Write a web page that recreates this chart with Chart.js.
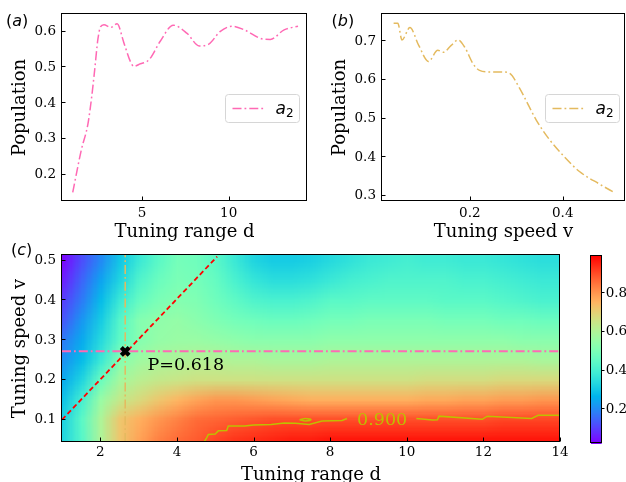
<!DOCTYPE html>
<html lang="es">
<head>
<meta charset="utf-8">
<title>Población a2</title>
<script src="https://cdn.jsdelivr.net/npm/chart.js@4.4.1/dist/chart.umd.min.js"></script>
<style>
    html, body { margin: 0; padding: 0; background: #fff; }
    #lienzo { position: relative; width: 626px; height: 482px; overflow: hidden; background: #fff; }
    #lienzo canvas { position: absolute; left: 0; top: 0; }
</style>
</head>
<body>
<div id="lienzo">
    <canvas id="panelA" width="626" height="482"></canvas>
    <canvas id="panelB" width="626" height="482"></canvas>
    <canvas id="panelC" width="626" height="482"></canvas>
    <canvas id="barraColor" width="626" height="482"></canvas>
</div>
<script>
// --- Datos (a): población frente al rango d ---
const rangoA = [1, 1.5, 1.87, 2.1, 2.26, 2.45, 2.6, 2.8, 3.2, 3.56, 3.95, 4.34, 4.52, 4.9, 5.4, 6.05, 6.8, 7.6, 8.3, 8.85, 9.5, 10.2, 10.9, 11.9, 12.4, 13.2, 14];
const poblacionA = [0.15, 0.27, 0.34, 0.42, 0.49, 0.578, 0.613, 0.619, 0.612, 0.622, 0.569, 0.515, 0.503, 0.51, 0.521, 0.573, 0.618, 0.595, 0.56, 0.565, 0.6, 0.615, 0.605, 0.58, 0.578, 0.605, 0.615];
const limXA = [0.38, 14.52];
const limYA = [0.126, 0.649];
const marcasXA = [5, 10];
const marcasYA = [0.2, 0.3, 0.4, 0.5, 0.6];

// --- Datos (b): población frente a la velocidad v ---
const velocidadB = [0.036, 0.045, 0.054, 0.071, 0.09, 0.111, 0.131, 0.143, 0.16, 0.175, 0.19, 0.207, 0.221, 0.243, 0.271, 0.286, 0.307, 0.325, 0.343, 0.371, 0.404, 0.436, 0.479, 0.511];
const poblacionB = [0.747, 0.747, 0.704, 0.736, 0.69, 0.648, 0.677, 0.672, 0.69, 0.704, 0.683, 0.642, 0.625, 0.621, 0.621, 0.617, 0.579, 0.5375, 0.496, 0.446, 0.4, 0.3625, 0.33, 0.308];
const limXB = [0.011, 0.534];
const limYB = [0.286, 0.771];
const marcasXB = [0.2, 0.4];
const marcasYB = [0.3, 0.4, 0.5, 0.6, 0.7];

// --- Datos (c): mapa de población (filas de v, columnas de d) ---
const columnasD = [1, 1.5, 2, 2.5, 3, 3.5, 4, 4.5, 5, 5.5, 6, 6.5, 7, 7.5, 8, 8.5, 9, 9.5, 10, 10.5, 11, 11.5, 12, 12.5, 13, 13.5, 14];
const filasV = [0.05, 0.1, 0.15, 0.2, 0.25, 0.3, 0.35, 0.4, 0.45, 0.5];
const filaV005 = [0.33, 0.43, 0.60, 0.72, 0.78, 0.83, 0.86, 0.88, 0.91, 0.93, 0.94, 0.95, 0.96, 0.96, 0.97, 0.97, 0.97, 0.97, 0.97, 0.97, 0.97, 0.97, 0.97, 0.97, 0.97, 0.97, 0.97];
const filaV010 = [0.32, 0.44, 0.60, 0.72, 0.76, 0.80, 0.83, 0.86, 0.87, 0.88, 0.89, 0.90, 0.90, 0.90, 0.90, 0.90, 0.90, 0.90, 0.90, 0.90, 0.90, 0.90, 0.90, 0.91, 0.91, 0.91, 0.91];
const filaV015 = [0.29, 0.40, 0.56, 0.64, 0.68, 0.72, 0.75, 0.78, 0.80, 0.80, 0.79, 0.78, 0.77, 0.76, 0.76, 0.76, 0.76, 0.76, 0.76, 0.77, 0.77, 0.78, 0.78, 0.79, 0.79, 0.80, 0.80];
const filaV020 = [0.25, 0.33, 0.47, 0.58, 0.62, 0.64, 0.65, 0.66, 0.66, 0.66, 0.66, 0.66, 0.66, 0.66, 0.66, 0.66, 0.66, 0.66, 0.66, 0.67, 0.67, 0.67, 0.67, 0.68, 0.68, 0.68, 0.68];
const filaV025 = [0.21, 0.28, 0.38, 0.52, 0.57, 0.59, 0.60, 0.61, 0.61, 0.60, 0.60, 0.59, 0.59, 0.59, 0.60, 0.60, 0.60, 0.60, 0.60, 0.60, 0.60, 0.60, 0.60, 0.60, 0.60, 0.59, 0.59];
const filaV030 = [0.18, 0.25, 0.34, 0.45, 0.52, 0.55, 0.56, 0.56, 0.55, 0.54, 0.53, 0.53, 0.53, 0.53, 0.54, 0.54, 0.54, 0.54, 0.54, 0.54, 0.54, 0.54, 0.54, 0.54, 0.53, 0.53, 0.53];
const filaV035 = [0.13, 0.22, 0.31, 0.43, 0.52, 0.54, 0.55, 0.53, 0.51, 0.49, 0.48, 0.47, 0.47, 0.48, 0.49, 0.49, 0.50, 0.50, 0.50, 0.50, 0.49, 0.49, 0.49, 0.48, 0.48, 0.47, 0.47];
const filaV040 = [0.10, 0.18, 0.28, 0.38, 0.46, 0.50, 0.52, 0.51, 0.48, 0.45, 0.42, 0.41, 0.41, 0.42, 0.44, 0.44, 0.45, 0.45, 0.45, 0.45, 0.44, 0.44, 0.44, 0.43, 0.42, 0.41, 0.41];
const filaV045 = [0.06, 0.15, 0.24, 0.33, 0.42, 0.47, 0.50, 0.49, 0.46, 0.41, 0.37, 0.35, 0.35, 0.36, 0.38, 0.40, 0.41, 0.42, 0.42, 0.42, 0.42, 0.41, 0.41, 0.40, 0.39, 0.38, 0.38];
const filaV050 = [0.03, 0.12, 0.20, 0.30, 0.38, 0.44, 0.49, 0.48, 0.44, 0.38, 0.33, 0.31, 0.31, 0.32, 0.34, 0.36, 0.38, 0.39, 0.40, 0.39, 0.39, 0.38, 0.38, 0.37, 0.36, 0.35, 0.35];
const mapaFilas = [filaV005, filaV010, filaV015, filaV020, filaV025, filaV030, filaV035, filaV040, filaV045, filaV050];
const limitesColor = [0.024, 0.994];
const limXC = [1, 14];
const limYC = [0.044, 0.514];
const marcasXC = [2, 4, 6, 8, 10, 12, 14];
const marcasYC = [0.1, 0.2, 0.3, 0.4, 0.5];
const marcasColor = [0.2, 0.4, 0.6, 0.8];

// --- Líneas guía y punto elegido ---
const diagonalD = [1, 5.05];
const diagonalV = [0.1, 0.51];
const horizontalD = [1, 14];
const horizontalV = [0.272, 0.272];
const verticalD = [2.65, 2.65];
const verticalV = [0.044, 0.514];
const puntoD = [2.65];
const puntoV = [0.272];

// --- Contorno 0.900 ---
const contornoD1 = [4.71, 4.78, 4.82, 5.0, 5.08, 5.3, 5.34, 5.77, 6.0, 6.46, 6.8, 7.1, 7.45, 7.79, 8.31, 8.44];
const contornoV1 = [0.044, 0.055, 0.063, 0.064, 0.072, 0.073, 0.084, 0.084, 0.087, 0.088, 0.092, 0.091, 0.088, 0.097, 0.098, 0.103];
const contornoD2 = [10.25, 10.68, 10.8, 10.84, 11.97, 12.1, 13.26, 13.43, 14];
const contornoV2 = [0.103, 0.099, 0.100, 0.109, 0.101, 0.109, 0.103, 0.111, 0.111];
const contornoD3 = [7.2, 7.35, 7.5, 7.35, 7.2];
const contornoV3 = [0.1, 0.103, 0.1, 0.097, 0.1];

// --- Estilos ---
const rosa = '#ff69b4';
const arena = '#e4ba5f';
const amarillo = '#bfbf00';
const fuenteMarcas = { family: "'DejaVu Serif', serif", size: 13.5 };
const fuenteTitulo = { family: "'DejaVu Serif', serif", size: 18 };
const guionPunto = [9, 3, 1.8, 3];

// --- Utilidades ---
function puntos(xs, ys) {
    return xs.map((x, i) => ({ x, y: ys[i] }));
}

function arcoiris(t) {
    t = Math.min(1, Math.max(0, t));
    const r = Math.min(1, Math.abs(2 * t - 0.5));
    const g = Math.sin(Math.PI * t);
    const b = Math.cos(Math.PI * t / 2);
    return [r, g, b].map(c => Math.round(c * 255));
}

function colorDeValor(valor) {
    return arcoiris((valor - limitesColor[0]) / (limitesColor[1] - limitesColor[0]));
}

function eje(lim, marcas, decimales, titulo, tamano, padMarcas, padTitulo) {
    const horizontal = tamano.alto !== undefined;
    return {
        type: 'linear',
        min: lim[0],
        max: lim[1],
        grid: { display: false, drawTicks: false },
        border: { display: false },
        afterBuildTicks: s => { s.ticks = marcas.map(value => ({ value })); },
        afterFit: s => {
            if (horizontal) s.height = tamano.alto; else s.width = tamano.ancho;
        },
        ticks: {
            font: fuenteMarcas,
            color: '#000',
            padding: padMarcas,
            autoSkip: false,
            maxRotation: 0,
            callback: v => v.toFixed(decimales)
        },
        title: {
            display: !!titulo,
            text: titulo,
            font: fuenteTitulo,
            color: '#000',
            padding: padTitulo
        }
    };
}

// --- Plugins ---
const marcoEjes = {
    id: 'marcoEjes',
    afterDatasetsDraw(chart, args, op) {
        const { ctx, chartArea: a } = chart;
        const izq = Math.round(a.left) - 0.5, der = Math.round(a.right) - 0.5;
        const arr = Math.round(a.top) - 0.5, aba = Math.round(a.bottom) - 0.5;
        ctx.save();
        ctx.strokeStyle = '#000';
        ctx.lineWidth = 1;
        ctx.beginPath();
        (op.marcas || []).forEach(({ eje, lado, largo }) => {
            const s = chart.scales[eje];
            s.ticks.forEach(t => {
                const p = Math.round(s.getPixelForValue(t.value)) + 0.5;
                if (lado === 'bottom') { ctx.moveTo(p, aba); ctx.lineTo(p, aba - largo); }
                if (lado === 'left') { ctx.moveTo(izq, p - 1); ctx.lineTo(izq + largo, p - 1); }
                if (lado === 'right') { ctx.moveTo(der, p - 1); ctx.lineTo(der + largo, p - 1); }
            });
        });
        ctx.stroke();
        ctx.strokeRect(izq, arr, der - izq, aba - arr);
        ctx.restore();
    }
};

const etiquetaPanel = {
    id: 'etiquetaPanel',
    afterDraw(chart, args, op) {
        const { ctx } = chart;
        ctx.save();
        ctx.fillStyle = '#000';
        ctx.textBaseline = 'middle';
        ctx.font = "16px 'DejaVu Sans'";
        let x = op.x;
        ctx.fillText('(', x, op.y);
        x += ctx.measureText('(').width;
        ctx.font = "oblique 16px 'DejaVu Sans'";
        ctx.fillText(op.letra, x, op.y);
        x += ctx.measureText(op.letra).width;
        ctx.font = "16px 'DejaVu Sans'";
        ctx.fillText(')', x, op.y);
        ctx.restore();
    }
};

const leyendaA2 = {
    id: 'leyendaA2',
    afterDraw(chart, args, op) {
        const { ctx, chartArea: a } = chart;
        const ds = chart.data.datasets[0];
        const x0 = Math.round(a.right - op.margen - op.ancho) + 0.5;
        const y0 = Math.round((a.top + a.bottom) / 2 - op.alto / 2) + 0.5;
        const yc = y0 + op.alto / 2;
        ctx.save();
        ctx.beginPath();
        ctx.roundRect(x0, y0, op.ancho, op.alto, 3);
        ctx.fillStyle = 'rgba(255,255,255,0.8)';
        ctx.fill();
        ctx.strokeStyle = '#d6d6d6';
        ctx.lineWidth = 1;
        ctx.stroke();
        ctx.beginPath();
        ctx.setLineDash(ds.borderDash);
        ctx.strokeStyle = ds.borderColor;
        ctx.lineWidth = ds.borderWidth;
        ctx.moveTo(x0 + 7, yc);
        ctx.lineTo(x0 + 38, yc);
        ctx.stroke();
        ctx.setLineDash([]);
        ctx.fillStyle = '#000';
        ctx.textBaseline = 'alphabetic';
        ctx.font = "oblique 17px 'DejaVu Sans'";
        ctx.fillText('a', x0 + 50, yc + 5.5);
        const w = ctx.measureText('a').width;
        ctx.font = "12px 'DejaVu Sans'";
        ctx.fillText('2', x0 + 50 + w, yc + 8);
        ctx.restore();
    }
};

const mapaCalor = {
    id: 'mapaCalor',
    beforeDatasetsDraw(chart) {
        const { ctx, chartArea: a, scales: { x, y } } = chart;
        const nc = columnasD.length, nf = filasV.length;
        const tmp = document.createElement('canvas');
        tmp.width = nc;
        tmp.height = nf;
        const tctx = tmp.getContext('2d');
        const img = tctx.createImageData(nc, nf);
        mapaFilas.forEach((fila, j) => {
            fila.forEach((valor, i) => {
                const [r, g, b] = colorDeValor(valor);
                const k = ((nf - 1 - j) * nc + i) * 4;
                img.data[k] = r; img.data[k + 1] = g; img.data[k + 2] = b; img.data[k + 3] = 255;
            });
        });
        tctx.putImageData(img, 0, 0);
        const md = (columnasD[1] - columnasD[0]) / 2, mv = (filasV[1] - filasV[0]) / 2;
        const x1 = x.getPixelForValue(columnasD[0] - md), x2 = x.getPixelForValue(columnasD[nc - 1] + md);
        const y1 = y.getPixelForValue(filasV[nf - 1] + mv), y2 = y.getPixelForValue(filasV[0] - mv);
        ctx.save();
        ctx.beginPath();
        ctx.rect(a.left, a.top, a.width, a.height);
        ctx.clip();
        ctx.imageSmoothingEnabled = true;
        ctx.imageSmoothingQuality = 'low';
        ctx.drawImage(tmp, x1, y1, x2 - x1, y2 - y1);
        ctx.restore();
    }
};

const textosMapa = {
    id: 'textosMapa',
    afterDatasetsDraw(chart, args, op) {
        const { ctx, scales: { x, y } } = chart;
        ctx.save();
        ctx.textBaseline = 'middle';
        op.textos.forEach(t => {
            ctx.font = t.fuente;
            ctx.fillStyle = t.color;
            ctx.textAlign = t.alinear;
            ctx.fillText(t.texto, x.getPixelForValue(t.d), y.getPixelForValue(t.v));
        });
        ctx.restore();
    }
};

const degradadoBarra = {
    id: 'degradadoBarra',
    beforeDatasetsDraw(chart) {
        const { ctx, chartArea: a, scales: { y } } = chart;
        ctx.save();
        for (let py = Math.floor(a.top); py < a.bottom; py++) {
            const [r, g, b] = colorDeValor(y.getValueForPixel(py + 0.5));
            ctx.fillStyle = `rgb(${r},${g},${b})`;
            ctx.fillRect(a.left, py, a.width, 1);
        }
        ctx.restore();
    }
};

const opcionesBase = {
    responsive: false,
    animation: false,
    devicePixelRatio: 1,
    events: []
};

// --- Panel (a) ---
new Chart(document.getElementById('panelA'), {
    type: 'scatter',
    data: {
        datasets: [{
            label: 'a2',
            data: puntos(rangoA, poblacionA),
            showLine: true,
            borderColor: rosa,
            borderWidth: 1.5,
            borderDash: guionPunto,
            pointRadius: 0,
            cubicInterpolationMode: 'monotone'
        }]
    },
    options: {
        ...opcionesBase,
        layout: { padding: { left: 0, top: 7, right: 319, bottom: 239 } },
        scales: {
            x: eje(limXA, marcasXA, 0, 'Tuning range d', { alto: 42 }, 4.8, { top: 0, bottom: 0 }),
            y: eje(limYA, marcasYA, 1, 'Population', { ancho: 62 }, 6, { top: 10, bottom: 0 })
        },
        plugins: {
            legend: { display: false },
            tooltip: { enabled: false },
            marcoEjes: { marcas: [{ eje: 'x', lado: 'bottom', largo: 4 }, { eje: 'y', lado: 'left', largo: 4 }] },
            etiquetaPanel: { letra: 'a', x: 6, y: 22 },
            leyendaA2: { ancho: 74, alto: 28, margen: 8 }
        }
    },
    plugins: [marcoEjes, etiquetaPanel, leyendaA2]
});

// --- Panel (b) ---
new Chart(document.getElementById('panelB'), {
    type: 'scatter',
    data: {
        datasets: [{
            label: 'a2',
            data: puntos(velocidadB, poblacionB),
            showLine: true,
            borderColor: arena,
            borderWidth: 1.5,
            borderDash: guionPunto,
            pointRadius: 0,
            cubicInterpolationMode: 'monotone'
        }]
    },
    options: {
        ...opcionesBase,
        layout: { padding: { left: 320, top: 7, right: 1, bottom: 239 } },
        scales: {
            x: eje(limXB, marcasXB, 1, 'Tuning speed v', { alto: 42 }, 4.8, { top: 0, bottom: 0 }),
            y: eje(limYB, marcasYB, 1, 'Population', { ancho: 62 }, 6, { top: 10, bottom: 0 })
        },
        plugins: {
            legend: { display: false },
            tooltip: { enabled: false },
            marcoEjes: { marcas: [{ eje: 'x', lado: 'bottom', largo: 4 }, { eje: 'y', lado: 'left', largo: 4 }] },
            etiquetaPanel: { letra: 'b', x: 331.5, y: 22 },
            leyendaA2: { ancho: 74, alto: 28, margen: 6 }
        }
    },
    plugins: [marcoEjes, etiquetaPanel, leyendaA2]
});

// --- Panel (c) ---
new Chart(document.getElementById('panelC'), {
    type: 'scatter',
    data: {
        datasets: [
            {
                data: puntos(puntoD, puntoV),
                pointStyle: 'crossRot',
                pointRadius: 5.5,
                borderWidth: 4.2,
                borderColor: '#000',
                backgroundColor: '#000'
            },
            {
                data: puntos(diagonalD, diagonalV),
                showLine: true, borderColor: '#ff0000', borderWidth: 1.8, borderDash: [5, 3], pointRadius: 0
            },
            {
                data: puntos(horizontalD, horizontalV),
                showLine: true, borderColor: rosa, borderWidth: 2, borderDash: guionPunto, pointRadius: 0
            },
            {
                data: puntos(verticalD, verticalV),
                showLine: true, borderColor: arena, borderWidth: 1.5, borderDash: guionPunto, pointRadius: 0
            },
            {
                data: puntos(contornoD1, contornoV1),
                showLine: true, borderColor: amarillo, borderWidth: 1.5, pointRadius: 0
            },
            {
                data: puntos(contornoD2, contornoV2),
                showLine: true, borderColor: amarillo, borderWidth: 1.5, pointRadius: 0
            },
            {
                data: puntos(contornoD3, contornoV3),
                showLine: true, borderColor: amarillo, borderWidth: 1.5, pointRadius: 0, tension: 0.4
            }
        ]
    },
    options: {
        ...opcionesBase,
        layout: { padding: { left: 0, top: 255, right: 66, bottom: 0 } },
        scales: {
            x: eje(limXC, marcasXC, 0, 'Tuning range d', { alto: 40 }, 2.2, { top: 0, bottom: -3.8 }),
            y: eje(limYC, marcasYC, 1, 'Tuning speed v', { ancho: 62 }, 6, { top: 10, bottom: 0 })
        },
        plugins: {
            legend: { display: false },
            tooltip: { enabled: false },
            marcoEjes: { marcas: [{ eje: 'x', lado: 'bottom', largo: 4 }, { eje: 'y', lado: 'left', largo: 4 }] },
            etiquetaPanel: { letra: 'c', x: 11, y: 250.8 },
            textosMapa: {
                textos: [
                    { texto: 'P=0.618', d: 3.234, v: 0.237, color: '#000', fuente: "17.5px 'DejaVu Serif'", alinear: 'left' },
                    { texto: '0.900', d: 9.357, v: 0.098, color: amarillo, fuente: "17.5px 'DejaVu Serif'", alinear: 'center' }
                ]
            }
        }
    },
    plugins: [mapaCalor, marcoEjes, etiquetaPanel, textosMapa]
});

// --- Barra de color ---
new Chart(document.getElementById('barraColor'), {
    type: 'scatter',
    data: { datasets: [] },
    options: {
        ...opcionesBase,
        layout: { padding: { left: 591, top: 255.5, right: 0, bottom: 38.7 } },
        scales: {
            x: { type: 'linear', display: false, min: 0, max: 1 },
            y: {
                ...eje(limitesColor, marcasColor, 1, '', { ancho: 24.3 }, 4, { top: 0, bottom: 0 }),
                position: 'right'
            }
        },
        plugins: {
            legend: { display: false },
            tooltip: { enabled: false },
            marcoEjes: { marcas: [{ eje: 'y', lado: 'right', largo: 3 }] }
        }
    },
    plugins: [degradadoBarra, marcoEjes]
});
</script>
</body>
</html>
